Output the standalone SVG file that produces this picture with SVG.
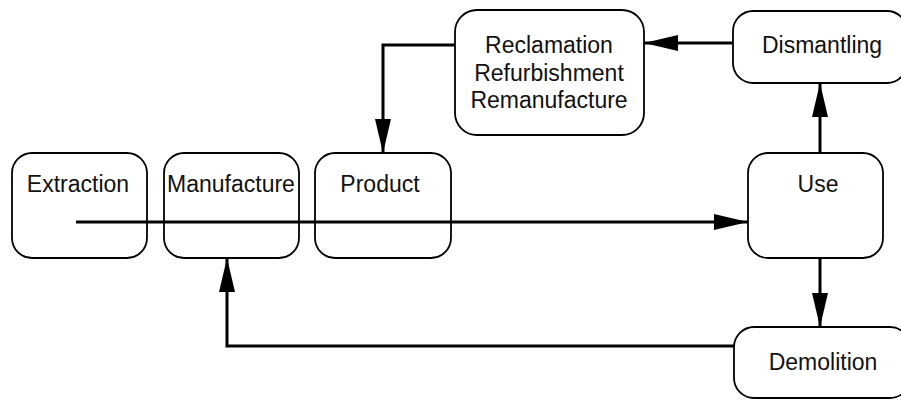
<svg xmlns="http://www.w3.org/2000/svg" width="901" height="400" viewBox="0 0 901 400">
  <style>
    .box { fill: #ffffff; stroke: #000000; stroke-width: 1.8; }
    .lbl { font-family: "Liberation Sans", Arial, sans-serif; font-size: 23px; fill: #111111; text-anchor: middle; }
    .edge { fill: none; stroke: #000000; stroke-width: 3; }
  </style>
  <defs>
    <marker id="arrow" markerUnits="userSpaceOnUse" markerWidth="36" markerHeight="18" refX="34" refY="8" orient="auto">
      <path d="M0,0 L34,8 L0,16 z" fill="#000000"/>
    </marker>
  </defs>
  <rect width="901" height="400" fill="#ffffff"/>

  <g id="extraction">
    <rect class="box" x="12" y="153" width="135" height="105" rx="20" ry="20"/>
    <text class="lbl" x="78" y="192">Extraction</text>
  </g>
  <g id="manufacture">
    <rect class="box" x="164" y="153" width="135" height="105" rx="20" ry="20"/>
    <text class="lbl" x="231" y="192">Manufacture</text>
  </g>
  <g id="product">
    <rect class="box" x="315" y="153" width="136" height="105" rx="20" ry="20"/>
    <text class="lbl" x="380" y="192">Product</text>
  </g>
  <g id="use">
    <rect class="box" x="748" y="153" width="135" height="105" rx="20" ry="20"/>
    <text class="lbl" x="818" y="192">Use</text>
  </g>
  <g id="reclamation">
    <rect class="box" x="455" y="10" width="189" height="125" rx="22" ry="22"/>
    <text class="lbl" x="549" y="53">Reclamation</text>
    <text class="lbl" x="549" y="81">Refurbishment</text>
    <text class="lbl" x="549" y="108">Remanufacture</text>
  </g>
  <g id="dismantling">
    <rect class="box" x="733" y="11" width="174" height="72" rx="20" ry="20"/>
    <text class="lbl" x="822" y="53">Dismantling</text>
  </g>
  <g id="demolition">
    <rect class="box" x="734" y="327" width="176" height="71" rx="20" ry="20"/>
    <text class="lbl" x="823" y="370">Demolition</text>
  </g>

  <g id="connectors">
    <path class="edge" d="M76,222 L748,222" marker-end="url(#arrow)"/>
    <path class="edge" d="M820,153 L820,83" marker-end="url(#arrow)"/>
    <path class="edge" d="M733,43 L644,43" marker-end="url(#arrow)"/>
    <path class="edge" d="M455,45 L383,45 L383,153" marker-end="url(#arrow)"/>
    <path class="edge" d="M820,258 L820,327" marker-end="url(#arrow)"/>
    <path class="edge" d="M734,346 L227,346 L227,258" marker-end="url(#arrow)"/>
  </g>
</svg>
